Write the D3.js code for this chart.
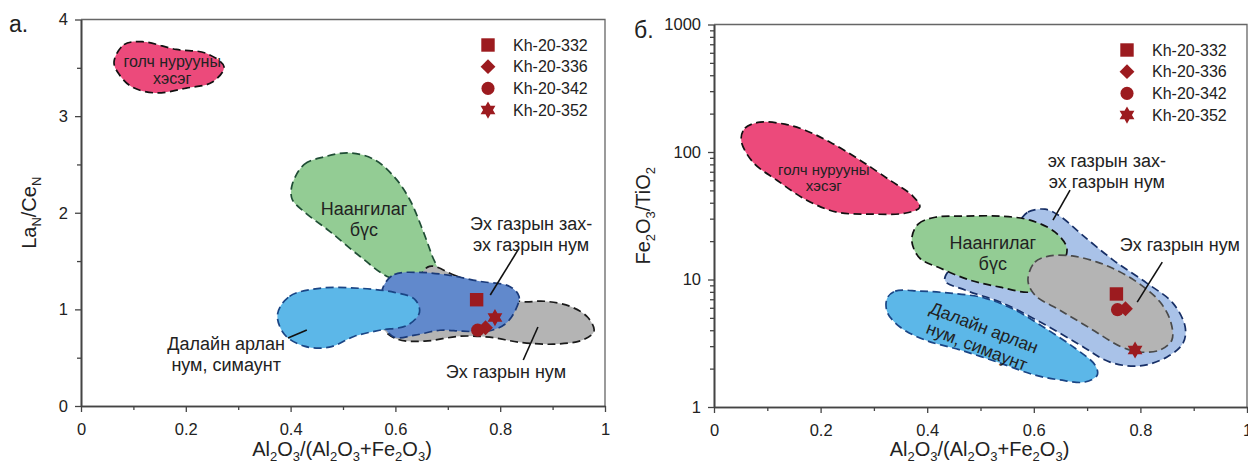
<!DOCTYPE html>
<html>
<head>
<meta charset="utf-8">
<script src="https://cdn.jsdelivr.net/npm/d3@7"></script>
<style>
  body { margin: 0; background: #fff; }
  text { font-family: "Liberation Sans", Arial, sans-serif; fill: #222; }
</style>
</head>
<body>
<svg id="chart" width="1248" height="465"></svg>
<script>
// samples (same four in both diagrams)
const samples = ['Kh-20-332', 'Kh-20-336', 'Kh-20-342', 'Kh-20-352']
const symbols = ['square', 'diamond', 'circle', 'star']
const alRatio = [0.755, 0.772, 0.757, 0.79]   // Al2O3/(Al2O3+Fe2O3)
const laCe = [1.10, 0.81, 0.785, 0.915]       // LaN/CeN
const feTi = [7.7, 5.9, 5.8, 2.8]             // Fe2O3/TiO2

// axis ticks
const xTicks = [0, 0.2, 0.4, 0.6, 0.8, 1]
const xMinor = [0.1, 0.3, 0.5, 0.7, 0.9]
const laCeTicks = [0, 1, 2, 3, 4]
const laCeMinor = [0.5, 1.5, 2.5, 3.5]
const feTiTicks = [1, 10, 100, 1000]

// field outlines, diagram а. (x, LaN/CeN)
const ridgeA = [[0.063, 3.56], [0.082, 3.74], [0.117, 3.77], [0.182, 3.69], [0.239, 3.65], [0.273, 3.51],
  [0.250, 3.35], [0.201, 3.29], [0.143, 3.24], [0.098, 3.30], [0.073, 3.43]]
const undiffA = [[0.403, 2.29], [0.426, 2.50], [0.465, 2.58], [0.512, 2.62], [0.560, 2.55], [0.598, 2.37],
  [0.627, 2.14], [0.650, 1.85], [0.669, 1.57], [0.685, 1.31], [0.646, 1.28], [0.589, 1.33],
  [0.532, 1.55], [0.474, 1.81], [0.426, 2.01], [0.403, 2.14]]
const contArcA = [[0.665, 1.445], [0.713, 1.352], [0.780, 1.207], [0.837, 1.084], [0.885, 1.084], [0.933, 1.032],
  [0.967, 0.918], [0.979, 0.774], [0.956, 0.681], [0.901, 0.640], [0.837, 0.660], [0.780, 0.712],
  [0.723, 0.722], [0.656, 0.671], [0.604, 0.691], [0.579, 0.795], [0.598, 0.980], [0.637, 1.259]]
const marginA = [[0.579, 1.259], [0.598, 1.362], [0.646, 1.383], [0.704, 1.352], [0.761, 1.290], [0.818, 1.238],
  [0.836, 1.135], [0.828, 0.980], [0.809, 0.846], [0.776, 0.774], [0.728, 0.774], [0.685, 0.784],
  [0.637, 0.733], [0.598, 0.712], [0.576, 0.846], [0.572, 1.104]]
const oceanicA = [[0.375, 0.949], [0.398, 1.135], [0.455, 1.218], [0.532, 1.218], [0.598, 1.176], [0.637, 1.104],
  [0.646, 0.970], [0.623, 0.836], [0.570, 0.784], [0.522, 0.722], [0.474, 0.609], [0.426, 0.619], [0.388, 0.743]]

// field outlines, diagram б. (x, Fe2O3/TiO2)
const ridgeB = [[0.051, 123.7], [0.058, 153.8], [0.086, 171.3], [0.133, 165.2], [0.171, 148.3], [0.218, 119.3],
  [0.274, 86.3], [0.330, 60.1], [0.373, 45.1], [0.386, 36.9], [0.358, 33.1], [0.293, 32.6],
  [0.231, 33.7], [0.174, 41.9], [0.118, 60.1], [0.073, 83.2]]
const marginB = [[0.570, 28.2], [0.589, 33.8], [0.621, 35.6], [0.649, 31.4], [0.687, 23.1], [0.749, 14.2],
  [0.812, 9.37], [0.861, 6.53], [0.884, 4.24], [0.880, 3.17], [0.850, 2.47], [0.799, 2.10],
  [0.743, 2.25], [0.687, 3.06], [0.612, 4.64], [0.537, 6.65], [0.471, 8.26], [0.433, 9.89],
  [0.462, 14.7], [0.518, 21.1]]
const oceanicB = [[0.325, 7.15], [0.340, 8.11], [0.386, 8.11], [0.443, 7.82], [0.508, 7.15], [0.565, 5.75],
  [0.621, 4.16], [0.677, 2.90], [0.715, 2.13], [0.719, 1.78], [0.696, 1.57], [0.649, 1.63],
  [0.602, 1.78], [0.537, 2.21], [0.462, 2.80], [0.396, 3.35], [0.349, 4.24], [0.325, 5.55]]
const undiffB = [[0.371, 20.4], [0.383, 27.2], [0.415, 30.8], [0.471, 31.4], [0.537, 31.4], [0.593, 29.2],
  [0.640, 23.5], [0.662, 17.6], [0.653, 13.0], [0.621, 9.04], [0.593, 7.97], [0.537, 8.71],
  [0.480, 9.89], [0.424, 12.3], [0.386, 14.7]]
const contArcB = [[0.589, 9.89], [0.602, 13.7], [0.630, 15.3], [0.672, 15.3], [0.719, 13.7], [0.756, 11.8],
  [0.799, 9.2], [0.837, 6.65], [0.857, 4.64], [0.859, 3.35], [0.837, 2.80], [0.799, 2.70],
  [0.765, 2.95], [0.705, 4.16], [0.649, 5.75], [0.602, 7.55]]

const svg = d3.select('#chart')
const markColor = '#9c1b1f'

// custom marker shapes
const symbolDiamondSq = {
  draw (ctx, size) {
    const r = Math.sqrt(size / 2)
    ctx.moveTo(0, -r); ctx.lineTo(r, 0); ctx.lineTo(0, r); ctx.lineTo(-r, 0); ctx.closePath()
  }
}
const symbolHexagram = {
  draw (ctx, size) {
    const r = Math.sqrt(size) * 0.62
    for (let i = 0; i < 12; i++) {
      const a = -Math.PI / 2 + i * Math.PI / 6
      const rr = i % 2 === 0 ? r : r / Math.sqrt(3)
      if (i === 0) ctx.moveTo(rr * Math.cos(a), rr * Math.sin(a))
      else ctx.lineTo(rr * Math.cos(a), rr * Math.sin(a))
    }
    ctx.closePath()
  }
}
const symbolOf = {
  square: d3.symbol().type(d3.symbolSquare).size(180),
  diamond: d3.symbol().type(symbolDiamondSq).size(110),
  circle: d3.symbol().type(d3.symbolCircle).size(135),
  star: d3.symbol().type(symbolHexagram).size(190)
}

// text with subscripts: parts = [[text, isSub], ...]
function richText (sel, parts, size) {
  parts.forEach(([t, sub], i) => {
    const prevSub = i > 0 && parts[i - 1][1]
    let dy = 0
    if (sub && !prevSub) dy = size * 0.24
    if (!sub && prevSub) dy = -size * 0.24
    sel.append('tspan').attr('font-size', sub ? size * 0.65 : size).attr('dy', dy).text(t)
  })
}

function drawPanel (cfg) {
  const { x, y, yTicks, yMinor, yFormat, fields, labels, leaders, yVals, panelName, namePos, yTitle, yTitleX, legendX } = cfg
  const [x0, x1] = x.range()
  const [y0, y1] = y.range()
  const g = svg.append('g')

  // fields
  const line = d3.line().x(d => x(d[0])).y(d => y(d[1])).curve(d3.curveCatmullRomClosed.alpha(0.5))
  fields.forEach(f => {
    g.append('path')
      .attr('d', line(f.pts))
      .attr('fill', f.fill)
      .attr('stroke', f.stroke)
      .attr('stroke-width', 1.7)
      .attr('stroke-dasharray', '8,4.5')
  })

  // leader lines
  leaders.forEach(l => {
    g.append('line')
      .attr('x1', x(l[0][0])).attr('y1', y(l[0][1]))
      .attr('x2', x(l[1][0])).attr('y2', y(l[1][1]))
      .attr('stroke', '#111').attr('stroke-width', 1.6)
  })

  // field labels
  labels.forEach(lb => {
    const t = g.append('text')
      .attr('text-anchor', 'middle')
      .attr('font-size', lb.size || 18)
      .attr('transform', `translate(${x(lb.x)},${y(lb.y)}) rotate(${lb.rot || 0})`)
    const lh = lb.lh || 21
    lb.lines.forEach((s, i) => {
      t.append('tspan').attr('x', 0)
        .attr('y', (i - (lb.lines.length - 1) / 2) * lh)
        .attr('dy', '0.35em')
        .text(s)
    })
  })

  // samples
  samples.forEach((s, i) => {
    g.append('path')
      .attr('d', symbolOf[symbols[i]]())
      .attr('transform', `translate(${x(alRatio[i])},${y(yVals[i])})`)
      .attr('fill', markColor)
  })

  // frame (top, right)
  g.append('path')
    .attr('d', `M${x0},${y1}H${x1}V${y0}`)
    .attr('fill', 'none').attr('stroke', '#666').attr('stroke-width', 1.3)

  // axes
  const axStyle = sel => {
    sel.select('.domain').attr('stroke', '#444').attr('stroke-width', 1.6)
    sel.selectAll('.tick line').attr('stroke', '#444').attr('stroke-width', 1.3)
    sel.selectAll('text').attr('font-size', 16.5).attr('fill', '#222')
      .attr('font-family', '"Liberation Sans", Arial, sans-serif')
  }
  g.append('g').attr('transform', `translate(0,${y0})`)
    .call(d3.axisBottom(x).tickValues(xMinor).tickSize(4).tickFormat('').tickSizeOuter(0)).call(axStyle)
  g.append('g').attr('transform', `translate(0,${y0})`)
    .call(d3.axisBottom(x).tickValues(xTicks).tickSize(6).tickPadding(11).tickFormat(d => String(d)).tickSizeOuter(0))
    .call(axStyle)
  g.append('g').attr('transform', `translate(${x0},0)`)
    .call(d3.axisLeft(y).tickValues(yMinor).tickSize(4).tickFormat('').tickSizeOuter(0)).call(axStyle)
  g.append('g').attr('transform', `translate(${x0},0)`)
    .call(d3.axisLeft(y).tickValues(yTicks).tickSize(6).tickPadding(7).tickFormat(yFormat).tickSizeOuter(0))
    .call(axStyle)

  // axis titles
  const xt = g.append('text').attr('text-anchor', 'middle')
    .attr('x', (x0 + x1) / 2 - 1).attr('y', 456)
  richText(xt, [['Al', 0], ['2', 1], ['O', 0], ['3', 1], ['/(Al', 0], ['2', 1], ['O', 0], ['3', 1],
    ['+Fe', 0], ['2', 1], ['O', 0], ['3', 1], [')', 0]], 20)
  const yt = g.append('text').attr('text-anchor', 'middle')
    .attr('transform', `translate(${yTitleX},${(y0 + y1) / 2}) rotate(-90)`)
  richText(yt, yTitle, 20)

  // panel name
  svg.append('text').attr('x', namePos[0]).attr('y', namePos[1])
    .attr('font-size', 23).text(panelName)

  // legend
  samples.forEach((s, i) => {
    const ly = y1 + 25.5 + i * 21.7
    g.append('path').attr('d', symbolOf[symbols[i]]())
      .attr('transform', `translate(${legendX},${ly})`).attr('fill', markColor)
    g.append('text').attr('x', legendX + 25).attr('y', ly).attr('dy', '0.35em')
      .attr('font-size', 16).text(s)
  })
}

// diagram а.
drawPanel({
  x: d3.scaleLinear().domain([0, 1]).range([81, 605]),
  y: d3.scaleLinear().domain([0, 4]).range([406, 19.5]),
  yTicks: laCeTicks,
  yMinor: laCeMinor,
  yFormat: d => String(d),
  yVals: laCe,
  fields: [
    { pts: ridgeA, fill: '#ec4a7b', stroke: '#111' },
    { pts: undiffA, fill: '#93cc94', stroke: '#1f4d35' },
    { pts: contArcA, fill: '#b4b4b4', stroke: '#1a1a1a' },
    { pts: marginA, fill: '#6189cc', stroke: '#1b3a78' },
    { pts: oceanicA, fill: '#5cb7e8', stroke: '#1a4585' }
  ],
  labels: [
    { x: 0.174, y: 3.48, lines: ['голч нурууны', 'хэсэг'], size: 16, lh: 17 },
    { x: 0.540, y: 1.936, lines: ['Наангилаг', 'бүс'] },
    { x: 0.859, y: 1.775, lines: ['Эх газрын зах-', 'эх газрын нум'] },
    { x: 0.277, y: 0.538, lines: ['Далайн арлан', 'нум, симаунт'] },
    { x: 0.811, y: 0.352, lines: ['Эх газрын нум'] }
  ],
  leaders: [
    [[0.834, 1.615], [0.781, 1.149]],
    [[0.395, 0.704], [0.431, 0.787]],
    [[0.844, 0.476], [0.872, 0.818]]
  ],
  panelName: 'а.',
  namePos: [9, 32],
  yTitle: [['La', 0], ['N', 1], ['/Ce', 0], ['N', 1]],
  yTitleX: 36,
  legendX: 488
})

// diagram б.
drawPanel({
  x: d3.scaleLinear().domain([0, 1]).range([714, 1247]),
  y: d3.scaleLog().domain([1, 1000]).range([407, 24.5]),
  yTicks: feTiTicks,
  yMinor: [1, 10, 100].flatMap(d => [2, 3, 4, 5, 6, 7, 8, 9].map(k => d * k)),
  yFormat: d => String(d),
  yVals: feTi,
  fields: [
    { pts: ridgeB, fill: '#ec4a7b', stroke: '#111' },
    { pts: marginB, fill: '#a9c2e8', stroke: '#172f66' },
    { pts: oceanicB, fill: '#5cb7e8', stroke: '#1a4585' },
    { pts: undiffB, fill: '#93cc94', stroke: '#111' },
    { pts: contArcB, fill: '#b4b4b4', stroke: '#4a4a4a' }
  ],
  labels: [
    { x: 0.206, y: 62.9, lines: ['голч нурууны', 'хэсэг'], size: 15, lh: 16 },
    { x: 0.523, y: 16.2, lines: ['Наангилаг', 'бүс'] },
    { x: 0.737, y: 70.7, lines: ['эх газрын зах-', 'эх газрын нум'] },
    { x: 0.874, y: 18.6, lines: ['Эх газрын нум'] },
    { x: 0.500, y: 3.55, lines: ['Далайн арлан', 'нум, симаунт'], rot: 21, size: 17.5, lh: 20 }
  ],
  leaders: [
    [[0.668, 50.2], [0.636, 29.2]],
    [[0.841, 13.7], [0.794, 6.65]]
  ],
  panelName: 'б.',
  namePos: [634, 38],
  yTitle: [['Fe', 0], ['2', 1], ['O', 0], ['3', 1], ['/TiO', 0], ['2', 1]],
  yTitleX: 650,
  legendX: 1127
})
</script>
</body>
</html>
